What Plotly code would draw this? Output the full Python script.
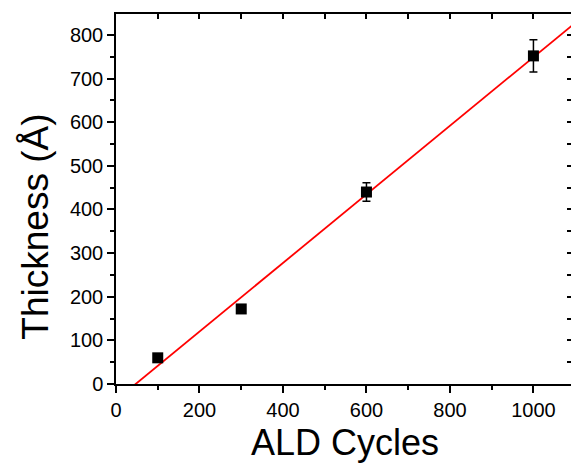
import numpy as np
import plotly.graph_objects as go

cycles = [100, 300, 600, 1000]
thickness = [60, 172, 440, 752]
thickness_err = [0, 0, 21, 37]

x_ticks = [0, 200, 400, 600, 800, 1000]
y_ticks = [0, 100, 200, 300, 400, 500, 600, 700, 800]

# linear fit
slope, intercept = np.polyfit(cycles, thickness, 1)
fit_x = [0, 1100]
fit_y = [slope * v + intercept for v in fit_x]

FONT = "Liberation Sans, Arial, sans-serif"
XR = [0, 1090]
YR = [0, 848]

fig = go.Figure()
fig.add_trace(go.Scatter(x=fit_x, y=fit_y, mode="lines",
                         line=dict(color="#ff0000", width=1.8),
                         showlegend=False, hoverinfo="skip"))
fig.add_trace(go.Scatter(x=cycles, y=thickness, mode="markers",
                         marker=dict(symbol="square", size=11, color="black"),
                         error_y=dict(type="data", array=thickness_err, visible=True,
                                      color="black", thickness=1.5, width=4),
                         showlegend=False))
# dummy trace for mirrored axes
fig.add_trace(go.Scatter(x=[None], y=[None], xaxis="x2", yaxis="y2",
                         showlegend=False, hoverinfo="skip"))

fig.update_layout(
    width=571, height=463,
    margin=dict(l=116, r=0, t=14, b=79),
    plot_bgcolor="white", paper_bgcolor="white",
    font=dict(family=FONT, color="black", size=19),
    xaxis=dict(range=XR, tickvals=x_ticks, ticktext=[str(v) for v in x_ticks],
               showgrid=False, zeroline=False, showline=True, linecolor="black",
               linewidth=1.5, ticks="outside", ticklen=7, tickwidth=1.5,
               tickcolor="black", automargin=False,
               minor=dict(dtick=100, tick0=0, ticks="outside", ticklen=4,
                          tickwidth=1.5, tickcolor="black", showgrid=False),
               tickfont=dict(size=20, family=FONT)),
    yaxis=dict(range=YR, tickvals=y_ticks, ticktext=[str(v) for v in y_ticks],
               showgrid=False, zeroline=False, showline=True, linecolor="black",
               linewidth=1.5, ticks="outside", ticklen=7, tickwidth=1.5,
               tickcolor="black", automargin=False,
               minor=dict(dtick=50, tick0=0, ticks="outside", ticklen=4,
                          tickwidth=1.5, tickcolor="black", showgrid=False),
               tickfont=dict(size=20, family=FONT)),
    xaxis2=dict(overlaying="x", side="top", range=XR, showgrid=False,
                zeroline=False, showline=True, linecolor="black", linewidth=1.5,
                tickvals=list(range(0, 1100, 100)), ticks="inside", ticklen=5,
                tickwidth=1.5, tickcolor="black", showticklabels=False,
                automargin=False),
    yaxis2=dict(overlaying="y", side="right", range=YR, showgrid=False,
                zeroline=False, showline=False,
                tickvals=list(range(0, 850, 50)), ticks="inside", ticklen=4,
                tickwidth=1.5, tickcolor="black", showticklabels=False,
                automargin=False),
    annotations=[
        dict(text="ALD Cycles", xref="paper", yref="paper", x=0.503, y=-0.159,
             xanchor="center", yanchor="middle", showarrow=False,
             font=dict(size=36, family=FONT, color="black")),
        dict(text="Thickness (Å)", xref="paper", yref="paper", x=-0.176, y=0.425,
             xanchor="center", yanchor="middle", showarrow=False, textangle=-90,
             font=dict(size=37, family=FONT, color="black")),
    ],
)

fig.write_html("out.html", config={"displayModeBar": False},
               post_script="document.body.style.margin='0';document.body.style.overflow='hidden';")
